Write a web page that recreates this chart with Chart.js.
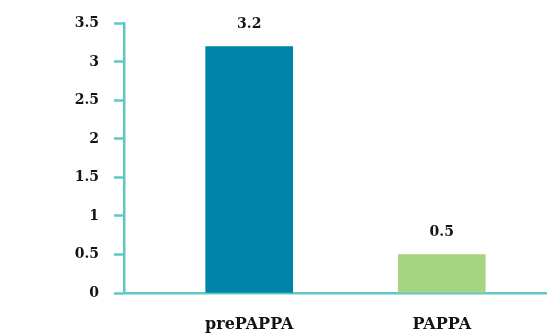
<!DOCTYPE html>
<html>
<head>
<meta charset="utf-8">
<script src="https://cdn.jsdelivr.net/npm/chart.js@4/dist/chart.umd.min.js"></script>
<style>
  html, body { margin: 0; padding: 0; background: #ffffff; }
  #wrap { width: 547px; height: 336px; position: relative; }
</style>
</head>
<body>
<div id="wrap"><canvas id="c" width="547" height="336"></canvas></div>
<script>
// Chart data
const categories = ['prePAPPA', 'PAPPA'];
const values = [3.2, 0.5];
const barColors = ['#0083A9', '#A6D482'];
const yTickValues = [0, 0.5, 1, 1.5, 2, 2.5, 3, 3.5];

const axisColor = '#5EC8C4';
const textColor = '#141414';
const fontFamily = '"DejaVu Serif", "Liberation Serif", serif';

// Writes each bar's value above it
const valueLabels = {
  id: 'valueLabels',
  afterDatasetsDraw(chart) {
    const ctx = chart.ctx;
    const meta = chart.getDatasetMeta(0);
    ctx.save();
    ctx.font = 'bold 14px ' + fontFamily;
    ctx.fillStyle = textColor;
    ctx.textAlign = 'center';
    ctx.textBaseline = 'middle';
    meta.data.forEach((bar, i) => {
      ctx.fillText(String(values[i]), bar.x, bar.y - 22);
    });
    ctx.restore();
  }
};

new Chart(document.getElementById('c'), {
  type: 'bar',
  data: {
    datasets: [{
      data: values.map((v, i) => ({ x: i, y: v })),
      backgroundColor: barColors,
      borderWidth: 0,
      barThickness: 87
    }]
  },
  options: {
    responsive: false,
    animation: false,
    events: [],
    layout: { padding: { top: 20, right: 0, bottom: 0, left: 0 } },
    plugins: {
      legend: { display: false },
      tooltip: { enabled: false }
    },
    scales: {
      x: {
        type: 'linear',
        offset: false,
        min: -0.6503,
        max: 1.5466,
        afterBuildTicks(scale) {
          scale.ticks = categories.map((_, i) => ({ value: i }));
        },
        afterFit(scale) { scale.height = 43; },
        grid: { display: false, drawTicks: false, offset: false },
        border: { display: true, color: axisColor, width: 2.5 },
        ticks: {
          autoSkip: false,
          maxRotation: 0,
          padding: 22,
          color: textColor,
          font: { family: fontFamily, size: 16, weight: 'bold' },
          callback: (v) => categories[v] ?? ''
        }
      },
      y: {
        min: 0,
        max: 3.5,
        afterBuildTicks(scale) {
          scale.ticks = yTickValues.map(v => ({ value: v }));
        },
        afterFit(scale) { scale.width = 124; },
        grid: {
          drawOnChartArea: false,
          drawTicks: true,
          tickLength: 10,
          tickColor: axisColor,
          tickWidth: 2.5
        },
        border: { display: true, color: axisColor, width: 2.5 },
        ticks: {
          padding: 15,
          color: textColor,
          font: { family: fontFamily, size: 14, weight: 'bold' },
          callback: (v) => String(v)
        }
      }
    }
  },
  plugins: [valueLabels]
});
</script>
</body>
</html>
